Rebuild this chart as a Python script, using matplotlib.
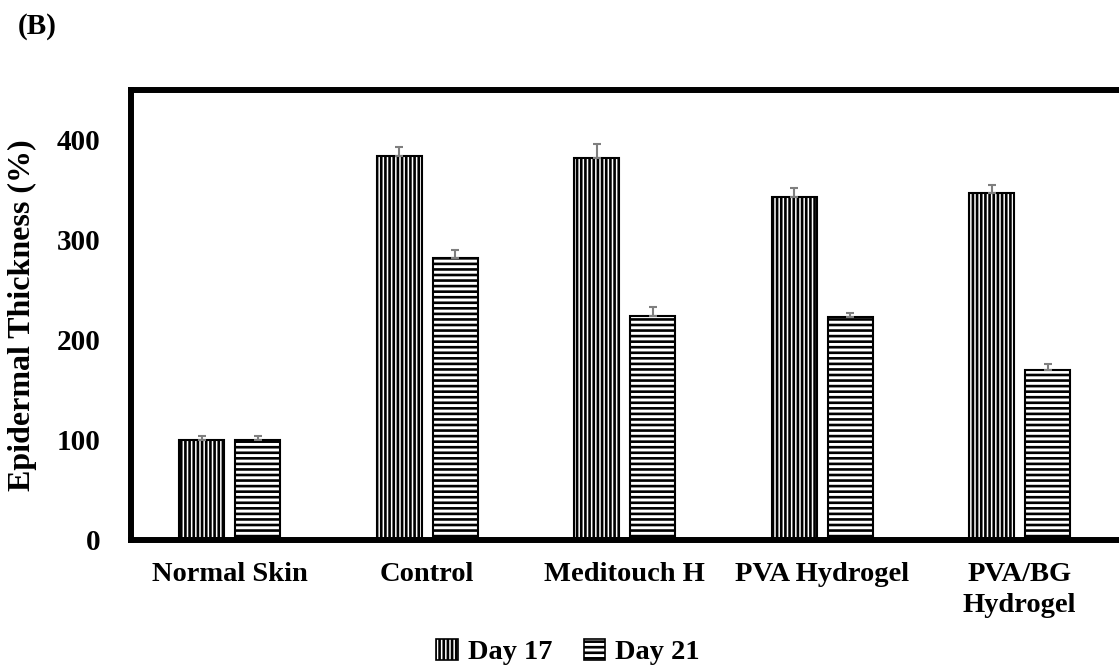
import matplotlib
matplotlib.use("Agg")
import matplotlib.pyplot as plt
import numpy as np
from matplotlib.patches import Patch

plt.rcParams['font.family'] = ['Liberation Serif', 'DejaVu Serif']
plt.rcParams['font.weight'] = 'bold'
plt.rcParams['hatch.linewidth'] = 1.9

categories = ["Normal Skin", "Control", "Meditouch H", "PVA Hydrogel", "PVA/BG\nHydrogel"]
day17 = [100, 384, 382, 343, 347]
day17_err = [4, 9, 14, 9, 8]
day21 = [100, 282, 224, 223, 170]
day21_err = [4, 8, 9, 4, 6]
yticks = [0, 100, 200, 300, 400]

fig = plt.figure(figsize=(11.19, 6.68), dpi=100)
ax = fig.add_axes([131/1119, 1-540/668, 990/1119, (540-90)/668])

x = np.arange(len(categories))
w = 0.228
off = 0.142
ax.bar(x - off, day17, w, color='white', edgecolor='black', hatch='||||', linewidth=1.5, zorder=2)
ax.bar(x + off, day21, w, color='white', edgecolor='black', hatch='---', linewidth=1.5, zorder=2)
ax.errorbar(x - off, day17, yerr=[np.zeros(len(x)), day17_err], fmt='none', ecolor='#7f7f7f',
            elinewidth=1.5, capsize=3, capthick=1.5, zorder=3)
ax.errorbar(x + off, day21, yerr=[np.zeros(len(x)), day21_err], fmt='none', ecolor='#7f7f7f',
            elinewidth=1.5, capsize=3, capthick=1.5, zorder=3)

ax.set_xlim(-0.5, 4.513)
ax.set_ylim(0, 450)
ax.set_yticks(yticks)
ax.set_yticklabels([str(t) for t in yticks], fontsize=21, fontweight='bold')
ax.set_xticks(x)
ax.set_xticklabels(categories, fontsize=20.5, fontweight='bold', va='top', linespacing=1.33)
ax.tick_params(axis='both', length=0)
ax.tick_params(axis='y', pad=22)
ax.tick_params(axis='x', pad=16)
for s in ax.spines.values():
    s.set_linewidth(4.3)
    s.set_color('black')

ax.set_ylabel("Epidermal Thickness (%)", fontsize=23, fontweight='bold', labelpad=14)

fig.text(18/1119, 1-27/668, "(B)", fontsize=21, fontweight='bold', va='center', ha='left')

handles = [Patch(facecolor='white', edgecolor='black', hatch='||||', linewidth=1.2, label='Day 17'),
           Patch(facecolor='white', edgecolor='black', hatch='---', linewidth=1.2, label='Day 21')]
fig.legend(handles=handles, loc='center', bbox_to_anchor=(568/1119, 1-652/668), ncol=2, frameon=False,
           prop={'size': 20.5, 'weight': 'bold'}, handlelength=0.75, handleheight=0.75,
           handletextpad=0.35, columnspacing=1.1)

fig.savefig("out.png", dpi=100)
